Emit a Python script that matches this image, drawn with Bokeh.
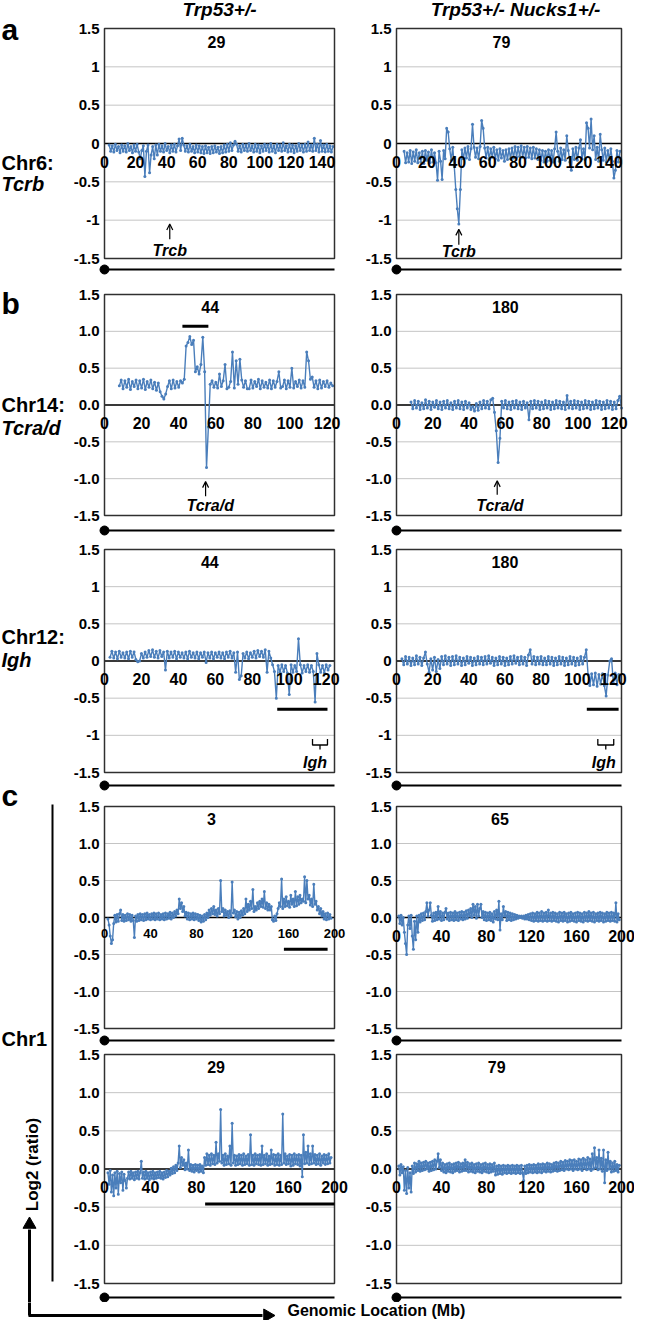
import math
from bokeh.plotting import figure
from bokeh.layouts import column, row
from bokeh.models import Range1d, Arrow, OpenHead
from bokeh.embed import file_html
from bokeh.resources import INLINE
from bokeh.core.properties import value

FONT = "Liberation Sans"
BLUE = "#4A7EBB"

# ---------------- texts ----------------
col_titles = ["Trp53+/-", "Trp53+/- Nucks1+/-"]
row_letters = ["a", "b", "c"]
chr_labels = ["Chr6:", "Chr14:", "Chr12:", "Chr1"]
gene_labels = ["Tcrb", "Tcra/d", "Igh", "Trcb"]
y_title = "Log2 (ratio)"
x_title = "Genomic Location (Mb)"
sample_ids = [["29", "79"], ["44", "180"], ["44", "180"], ["3", "65"], ["29", "79"]]

# ---------------- axes ----------------
y_ticks = [-1.5, -1.0, -0.5, 0.0, 0.5, 1.0, 1.5]
y_labels_plain = ["-1.5", "-1", "-0.5", "0", "0.5", "1", "1.5"]
y_labels_dec = ["-1.5", "-1.0", "-0.5", "0.0", "0.5", "1.0", "1.5"]
chr6_ticks = [0, 20, 40, 60, 80, 100, 120, 140]
chr14_ticks = [0, 20, 40, 60, 80, 100, 120]
chr12_ticks = [0, 20, 40, 60, 80, 100, 120]
chr1_ticks = [0, 40, 80, 120, 160, 200]
chr6_max, chr14_max, chr12_max, chr1_max = 148, 124, 124.5, 200

# ---------------- data: log2 ratio, one probe per Mb from the start position ----------------
STEP = 1
a_left_start = 3
a_left_y = [
    -0.02, -0.10, -0.03, -0.11, -0.01, -0.09, -0.04, -0.12, -0.02, -0.10,
    -0.03, -0.11, 0.00, -0.09, -0.04, -0.12, -0.02, -0.10, -0.01, -0.11,
    -0.20, -0.09, -0.03, -0.43, -0.10, -0.02, -0.38, -0.15, -0.04, -0.20,
    -0.02, -0.15, -0.01, -0.10, -0.03, -0.11, 0.00, -0.09, -0.04, -0.12,
    -0.02, -0.10, -0.01, -0.11, -0.03, 0.06, -0.09, 0.07, -0.02, -0.10,
    -0.03, -0.11, -0.01, -0.10, -0.04, -0.12, -0.02, -0.11, -0.03, -0.12,
    -0.04, -0.13, -0.03, -0.12, -0.05, -0.13, -0.04, -0.12, -0.03, -0.11,
    -0.05, -0.13, -0.04, -0.12, -0.02, -0.11, -0.01, -0.10, 0.01, -0.09,
    -0.02, 0.03, -0.01, -0.10, -0.03, -0.11, -0.01, -0.09, -0.02, -0.10,
    0.00, -0.09, -0.03, -0.11, -0.01, -0.10, -0.02, -0.12, -0.03, -0.10,
    -0.01, -0.09, -0.02, -0.11, 0.00, -0.10, -0.03, -0.12, -0.01, -0.09,
    -0.02, -0.10, 0.01, -0.09, -0.03, -0.11, -0.01, -0.10, -0.02, -0.12,
    -0.03, -0.10, 0.00, -0.09, -0.02, -0.11, -0.01, -0.10, 0.02, -0.09,
    -0.02, -0.10, 0.07, -0.09, -0.01, -0.11, 0.04, -0.10, -0.02, -0.11,
    -0.01, -0.10, -0.03, -0.11, -0.04]

a_right_start = 5
a_right_y = [
    -0.10, -0.25, -0.12, -0.24, -0.09, -0.26, -0.11, -0.23, -0.08, -0.25,
    -0.12, -0.24, -0.10, -0.26, -0.09, -0.22, -0.11, -0.25, -0.08, -0.24,
    -0.12, -0.25, -0.48, -0.10, -0.23, -0.47, -0.09, -0.20, 0.20, 0.15,
    -0.07, -0.22, -0.05, -0.30, -0.60, -0.85, -1.05, -0.60, -0.08, -0.20,
    -0.06, -0.19, -0.04, -0.21, -0.07, 0.25, -0.05, -0.18, -0.06, -0.20,
    -0.04, 0.30, 0.20, -0.06, -0.19, -0.05, -0.21, -0.07, -0.18, -0.05,
    -0.20, -0.08, -0.22, -0.07, -0.19, -0.09, -0.23, -0.08, -0.21, -0.07,
    -0.20, -0.06, -0.19, -0.04, -0.18, -0.05, -0.17, -0.03, -0.18, -0.05,
    -0.19, -0.04, -0.18, -0.06, -0.20, -0.05, -0.19, -0.07, -0.21, -0.08,
    -0.22, -0.09, -0.24, -0.10, -0.23, -0.08, -0.22, -0.09, -0.24, -0.07,
    0.15, -0.10, -0.23, -0.06, -0.21, -0.08, -0.22, 0.10, -0.09, -0.24,
    -0.35, -0.07, -0.21, -0.05, -0.22, -0.06, 0.05, -0.20, -0.07, -0.21,
    0.27, 0.20, -0.06, 0.32, -0.08, 0.10, -0.21, -0.05, -0.23, 0.12,
    -0.08, -0.22, -0.06, -0.24, -0.09, -0.21, -0.07, -0.23, -0.45, -0.35,
    -0.09, -0.24, -0.10]

b_left_start = 8
b_left_y = [
    0.26, 0.34, 0.22, 0.33, 0.24, 0.35, 0.21, 0.32, 0.25, 0.34,
    0.22, 0.33, 0.23, 0.35, 0.21, 0.32, 0.24, 0.34, 0.22, 0.31,
    0.20, 0.30, 0.18, 0.12, 0.08, 0.15, 0.25, 0.33, 0.22, 0.34,
    0.23, 0.32, 0.24, 0.33, 0.30, 0.35, 0.80, 0.85, 0.93, 0.82,
    0.88, 0.45, 0.52, 0.42, 0.55, 0.92, 0.45, -0.85, -0.30, 0.28,
    0.33, 0.24, 0.31, 0.23, 0.42, 0.25, 0.33, 0.55, 0.22, 0.24,
    0.32, 0.72, 0.23, 0.60, 0.28, 0.62, 0.34, 0.24, 0.33, 0.22,
    0.22, 0.34, 0.23, 0.32, 0.25, 0.35, 0.22, 0.33, 0.24, 0.31,
    0.23, 0.34, 0.22, 0.33, 0.24, 0.32, 0.45, 0.23, 0.25, 0.34,
    0.22, 0.33, 0.24, 0.50, 0.23, 0.32, 0.25, 0.34, 0.23, 0.33,
    0.24, 0.72, 0.60, 0.35, 0.38, 0.24, 0.33, 0.22, 0.34, 0.23,
    0.32, 0.25, 0.33, 0.24, 0.30, 0.26]

b_right_start = 8
b_right_y = [
    0.04, -0.05, 0.06, -0.04, 0.05, -0.06, 0.03, -0.05, 0.07, -0.04,
    0.05, -0.06, 0.04, -0.03, 0.06, -0.05, 0.04, -0.06, 0.05, -0.04,
    0.06, -0.05, 0.03, -0.06, 0.05, -0.04, 0.06, -0.05, 0.04, -0.06,
    0.05, -0.04, 0.03, -0.06, -0.02, -0.08, 0.02, -0.07, 0.04, -0.05,
    0.06, -0.04, 0.05, -0.05, 0.07, 0.09, -0.10, -0.35, -0.78, -0.45,
    0.05, -0.04, 0.06, -0.05, 0.04, -0.06, 0.05, -0.04, 0.06, -0.05,
    0.04, -0.06, 0.05, -0.04, 0.03, -0.20, 0.05, -0.05, 0.06, -0.04,
    0.05, -0.06, 0.04, -0.05, 0.06, -0.04, 0.05, -0.06, 0.04, -0.05,
    0.06, -0.04, 0.05, -0.05, 0.04, -0.06, 0.13, -0.04, 0.05, -0.05,
    0.06, -0.04, 0.05, -0.06, 0.04, -0.05, 0.06, -0.04, 0.05, -0.06,
    0.04, -0.05, 0.06, -0.04, 0.05, -0.06, 0.04, -0.05, 0.06, -0.04,
    0.05, -0.06, 0.04, -0.05, 0.06, 0.12, -0.04]

c12_left_start = 3
c12_left_y = [
    0.05, 0.13, 0.04, 0.12, 0.03, 0.13, 0.05, 0.11, 0.04, 0.12,
    0.03, 0.13, 0.05, 0.12, 0.02, -0.01, 0.00, 0.10, 0.04, 0.12,
    0.05, 0.14, 0.06, 0.15, 0.05, 0.13, 0.04, 0.14, 0.06, 0.12,
    -0.12, 0.13, 0.04, 0.12, 0.05, 0.13, 0.03, 0.12, 0.05, 0.11,
    0.04, 0.12, 0.03, 0.13, 0.05, 0.11, 0.04, 0.12, 0.03, 0.11,
    0.05, 0.12, -0.02, 0.11, 0.04, 0.12, 0.03, 0.11, 0.05, 0.12,
    0.04, 0.11, 0.03, 0.12, 0.05, 0.13, 0.04, 0.11, -0.15, 0.12,
    -0.25, -0.20, 0.10, 0.04, 0.12, 0.03, 0.11, 0.05, 0.13, 0.04,
    0.14, 0.06, 0.13, 0.05, 0.15, -0.15, 0.13, 0.04, -0.05, -0.14,
    -0.50, -0.06, -0.15, -0.05, -0.14, -0.06, -0.16, -0.45, -0.05, -0.15,
    -0.06, -0.14, 0.30, -0.05, -0.16, -0.06, -0.14, -0.05, -0.15, -0.06,
    -0.14, -0.55, 0.10, -0.05, -0.15, -0.06, -0.16, -0.05, -0.12, -0.06]

c12_right_start = 3
c12_right_y = [
    0.03, -0.05, 0.06, -0.04, 0.05, -0.06, 0.04, -0.05, 0.07, -0.04,
    0.05, -0.06, 0.04, 0.12, -0.04, -0.15, 0.03, -0.12, 0.05, -0.14,
    0.02, -0.10, 0.06, -0.05, 0.07, -0.04, 0.05, -0.06, 0.06, -0.05,
    0.07, -0.04, 0.05, -0.06, 0.04, -0.05, 0.06, -0.03, 0.05, -0.06,
    0.04, -0.05, 0.06, -0.04, 0.05, -0.05, 0.06, -0.04, 0.07, -0.03,
    0.05, -0.06, 0.04, -0.05, 0.06, -0.04, 0.05, -0.06, 0.04, -0.05,
    0.06, -0.04, 0.07, -0.03, 0.05, -0.05, 0.06, -0.04, 0.05, -0.06,
    0.08, 0.15, -0.04, 0.06, -0.05, 0.05, -0.04, 0.06, -0.05, 0.04,
    -0.05, 0.06, -0.04, 0.05, -0.06, 0.04, -0.05, 0.06, -0.04, 0.05,
    -0.06, 0.04, -0.05, 0.06, -0.04, 0.05, -0.06, 0.04, -0.05, 0.06,
    -0.04, 0.05, 0.15, -0.18, -0.33, -0.17, -0.32, -0.16, -0.34, -0.18,
    -0.31, -0.17, -0.33, -0.47, -0.19, 0.00, 0.03, -0.30, -0.16, -0.32,
    -0.18]

c1_left_start = 3
c1_left_y = [
    -0.02, -0.10, -0.25, -0.35, -0.30, -0.08, 0.03, -0.06, 0.04, -0.05,
    0.05, 0.10, -0.04, 0.04, -0.05, 0.03, -0.04, 0.05, -0.03, 0.04,
    -0.05, 0.03, -0.04, -0.27, 0.02, -0.05, 0.04, -0.04, 0.05, -0.03,
    0.04, -0.04, 0.05, -0.03, 0.06, -0.02, 0.04, -0.03, 0.05, -0.02,
    0.06, -0.03, 0.05, -0.02, 0.06, -0.03, 0.04, -0.02, 0.05, -0.03,
    0.06, -0.02, 0.05, -0.01, 0.07, -0.02, 0.06, 0.00, 0.08, 0.02,
    0.10, 0.05, 0.25, 0.12, 0.20, 0.08, 0.15, 0.02, 0.07, -0.02,
    0.06, -0.03, 0.05, -0.02, 0.06, -0.03, 0.05, -0.02, 0.04, -0.04,
    0.03, -0.06, 0.02, -0.05, 0.04, -0.03, 0.06, 0.00, 0.10, 0.03,
    0.12, 0.05, 0.15, 0.04, 0.10, 0.02, 0.12, 0.05, 0.50, 0.08,
    0.12, 0.02, 0.10, 0.03, 0.08, 0.00, 0.09, 0.02, 0.48, 0.06,
    0.10, 0.01, 0.08, -0.02, 0.07, 0.00, 0.09, 0.03, 0.12, 0.05,
    0.25, 0.08, 0.18, 0.10, 0.22, 0.12, 0.38, 0.08, 0.15, 0.10,
    0.20, 0.12, 0.22, 0.15, 0.25, 0.14, 0.35, 0.12, 0.20, 0.10,
    0.18, 0.10, 0.15, -0.03, -0.05, 0.02, -0.04, 0.05, 0.12, 0.20,
    0.15, 0.52, 0.12, 0.25, 0.15, 0.28, 0.16, 0.22, 0.14, 0.30,
    0.18, 0.25, 0.15, 0.35, 0.16, 0.28, 0.18, 0.30, 0.20, 0.25,
    0.22, 0.55, 0.20, 0.50, 0.25, 0.30, 0.17, 0.25, 0.15, 0.45,
    0.18, 0.22, 0.10, 0.15, 0.05, 0.12, 0.02, 0.08, -0.02, 0.05,
    -0.03, 0.06, -0.02, 0.04, -0.01]

c1_right_start = 2
c1_right_y = [
    0.02, -0.08, 0.03, -0.10, 0.00, -0.20, -0.35, -0.50, -0.10, 0.02,
    -0.15, 0.03, -0.25, -0.43, -0.05, -0.30, 0.02, -0.20, 0.03, -0.06,
    0.05, -0.04, 0.06, -0.03, 0.08, 0.20, 0.02, 0.10, 0.20, 0.03,
    -0.05, 0.06, -0.04, 0.07, -0.03, 0.15, -0.02, 0.08, -0.04, 0.06,
    -0.03, 0.07, 0.12, -0.02, 0.06, -0.04, 0.07, -0.03, 0.06, -0.04,
    0.08, -0.03, 0.06, -0.04, 0.07, -0.02, 0.08, -0.03, 0.07, -0.02,
    0.09, -0.01, 0.10, 0.02, 0.12, 0.00, 0.18, 0.03, 0.15, -0.01,
    0.18, 0.02, 0.12, 0.18, 0.00, 0.08, -0.03, 0.07, -0.04, 0.06,
    -0.03, 0.07, -0.04, 0.05, -0.06, 0.08, -0.02, 0.10, -0.03, 0.22,
    -0.17, 0.05, -0.03, 0.15, 0.02, 0.08, -0.04, 0.07, -0.03, 0.06,
    -0.04, 0.05, -0.03, 0.04, -0.02, 0.03, -0.01, 0.02, 0.00, 0.02,
    -0.01, 0.02, -0.02, 0.03, -0.02, 0.04, -0.03, 0.05, -0.04, 0.06,
    -0.05, 0.05, -0.04, 0.07, -0.05, 0.06, -0.04, 0.08, -0.05, 0.06,
    -0.04, 0.07, -0.05, 0.10, -0.04, 0.06, -0.05, 0.07, -0.04, 0.06,
    -0.05, 0.05, -0.06, 0.07, -0.04, 0.06, -0.05, 0.07, -0.04, 0.05,
    -0.06, 0.06, -0.05, 0.07, -0.04, 0.05, -0.05, 0.06, -0.06, 0.07,
    -0.04, 0.06, -0.05, 0.05, -0.06, 0.07, -0.04, 0.06, -0.05, 0.08,
    -0.04, 0.06, -0.05, 0.07, -0.06, 0.05, -0.04, 0.06, -0.05, 0.07,
    -0.04, 0.06, -0.06, 0.05, -0.05, 0.07, -0.04, 0.06, -0.05, 0.07,
    -0.04, 0.06, -0.05, 0.20, -0.06, 0.05, -0.03]

c2_left_start = 3
c2_left_y = [
    -0.05, -0.20, -0.02, -0.30, -0.08, -0.35, -0.05, -0.25, -0.03, -0.33,
    -0.06, -0.18, -0.04, -0.28, -0.07, -0.15, -0.25, -0.12, -0.04, -0.13,
    -0.03, -0.12, -0.05, -0.14, -0.04, -0.12, -0.03, -0.13, -0.05, 0.10,
    -0.12, -0.04, -0.13, -0.03, -0.12, -0.05, -0.14, -0.04, -0.12, -0.03,
    -0.13, -0.05, -0.12, -0.04, -0.11, -0.03, -0.12, -0.05, -0.13, -0.04,
    -0.11, -0.02, -0.10, -0.03, -0.08, 0.01, -0.06, 0.03, -0.05, 0.05,
    -0.02, 0.08, 0.30, 0.02, 0.15, 0.05, 0.12, -0.01, 0.08, 0.00,
    0.25, -0.02, 0.06, -0.03, 0.05, -0.04, 0.06, -0.02, 0.05, -0.04,
    0.06, -0.03, 0.04, -0.05, 0.15, 0.05, 0.20, 0.06, 0.18, 0.05,
    0.20, 0.07, 0.18, 0.06, 0.35, 0.08, 0.20, 0.10, 0.78, 0.08,
    0.18, 0.05, 0.20, 0.06, 0.17, 0.07, 0.30, 0.05, 0.60, 0.08,
    0.18, 0.05, 0.17, 0.06, 0.19, 0.07, 0.18, 0.05, 0.20, 0.06,
    0.17, 0.07, 0.19, 0.05, 0.45, 0.06, 0.18, 0.05, 0.20, 0.07,
    0.18, 0.06, 0.19, 0.05, 0.30, 0.06, 0.18, 0.07, 0.20, 0.05,
    0.17, 0.06, 0.25, 0.07, 0.19, 0.05, 0.18, 0.06, 0.20, 0.05,
    0.18, 0.06, 0.72, 0.08, 0.20, 0.06, 0.17, 0.07, 0.19, 0.04,
    0.18, 0.05, 0.20, 0.07, 0.18, 0.06, 0.19, 0.04, 0.18, -0.10,
    0.45, 0.07, 0.22, 0.08, 0.30, 0.06, 0.20, 0.07, 0.30, 0.08,
    0.19, 0.06, 0.18, 0.07, 0.20, 0.05, 0.17, 0.08, 0.19, 0.06,
    0.18, 0.07, 0.20, 0.08, 0.15]

c2_right_start = 2
c2_right_y = [
    0.04, -0.08, 0.06, -0.05, 0.03, -0.28, -0.02, -0.32, 0.02, -0.25,
    -0.05, -0.30, 0.04, -0.06, 0.08, -0.04, 0.07, -0.02, 0.10, -0.03,
    0.08, -0.02, 0.09, -0.01, 0.10, 0.00, 0.08, -0.03, 0.09, -0.02,
    0.10, -0.01, 0.12, 0.00, 0.10, 0.20, 0.02, 0.12, -0.02, 0.08,
    -0.04, 0.06, -0.05, 0.07, -0.03, 0.08, -0.04, 0.06, -0.05, 0.07,
    -0.03, 0.08, -0.02, 0.09, -0.04, 0.07, -0.03, 0.08, -0.02, 0.12,
    -0.02, 0.09, -0.04, 0.07, -0.03, 0.08, -0.04, 0.06, -0.05, 0.07,
    -0.03, 0.08, -0.04, 0.06, -0.05, 0.07, -0.03, 0.08, -0.04, 0.06,
    -0.05, 0.07, -0.04, 0.06, -0.03, 0.08, -0.08, 0.04, -0.07, 0.05,
    -0.06, 0.04, -0.07, 0.05, -0.05, 0.04, -0.06, 0.05, -0.05, 0.04,
    -0.06, 0.05, -0.05, 0.04, -0.06, 0.05, -0.05, 0.04, -0.06, 0.05,
    -0.05, -0.15, 0.04, -0.06, 0.05, -0.05, 0.06, -0.04, 0.05, -0.05,
    0.06, -0.04, 0.05, -0.05, 0.07, -0.04, 0.06, -0.05, 0.07, -0.03,
    0.06, -0.04, 0.08, -0.03, 0.07, -0.04, 0.06, -0.03, 0.08, -0.02,
    0.09, -0.03, 0.08, -0.02, 0.10, -0.01, 0.09, -0.02, 0.11, 0.00,
    0.10, -0.01, 0.12, 0.00, 0.11, -0.02, 0.12, 0.00, 0.10, -0.01,
    0.13, 0.00, 0.12, -0.02, 0.14, 0.01, 0.12, -0.01, 0.15, 0.00,
    0.13, -0.02, 0.20, 0.00, 0.28, 0.02, 0.15, -0.01, 0.25, 0.00,
    0.14, -0.03, 0.25, -0.18, 0.12, -0.02, 0.22, 0.00, 0.10, -0.04,
    0.08, -0.03, 0.10, -0.02, 0.06, -0.04, 0.05]

# ---------------- layout geometry (pixel boxes) ----------------
LEFT = dict(width=280, box_l=34, fw=230)
RIGHT = dict(width=284, box_l=46, fw=225)
ROWS = [
    dict(top=24, fh=230, bot=290, line_y=273),
    dict(top=290, fh=221, bot=545, line_y=534),
    dict(top=545, fh=223, bot=802, line_y=789),
    dict(top=802, fh=222, bot=1050, line_y=1044),
    dict(top=1050, fh=229, bot=1306, line_y=1301),
]
BOX_TOP = 8

PANELS = [
    [dict(xmax=chr6_max, ticks=chr6_ticks, ylabels=y_labels_plain, start=a_left_start, ys=a_left_y,
          num_x=72, tick_size=16, tick_off=18,
          arrow=(42, -1.25, -1.05), gene=(gene_labels[3], 42, -1.39)),
     dict(xmax=chr6_max, ticks=chr6_ticks, ylabels=y_labels_plain, start=a_right_start, ys=a_right_y,
          num_x=69, tick_size=16, tick_off=18,
          arrow=(41, -1.32, -1.12), gene=(gene_labels[0], 41, -1.41))],
    [dict(xmax=chr14_max, ticks=chr14_ticks, ylabels=y_labels_dec, start=b_left_start, ys=b_left_y,
          num_x=57, tick_size=16, tick_off=18,
          bar=(42, 56, 1.07), arrow=(54.5, -1.24, -1.04), gene=(gene_labels[1], 57, -1.37)),
     dict(xmax=chr14_max, ticks=chr14_ticks, ylabels=y_labels_dec, start=b_right_start, ys=b_right_y,
          num_x=60, tick_size=16, tick_off=18,
          arrow=(55.5, -1.22, -1.03), gene=(gene_labels[1], 57, -1.36))],
    [dict(xmax=chr12_max, ticks=chr12_ticks, ylabels=y_labels_plain, start=c12_left_start, ys=c12_left_y,
          num_x=57, tick_size=16, tick_off=18,
          bar=(93.5, 120.7, -0.65), bracket=(112.6, 120.7, -1.05, -1.13), gene=(gene_labels[2], 114, -1.37)),
     dict(xmax=chr12_max, ticks=chr12_ticks, ylabels=y_labels_plain, start=c12_right_start, ys=c12_right_y,
          num_x=60, tick_size=16, tick_off=18,
          bar=(105.3, 122.9, -0.65), bracket=(111.4, 120.2, -1.05, -1.13), gene=(gene_labels[2], 114.7, -1.37))],
    [dict(xmax=chr1_max, ticks=chr1_ticks, ylabels=y_labels_dec, start=c1_left_start, ys=c1_left_y,
          num_x=93, tick_size=13, tick_off=16, bar=(156, 194, -0.43)),
     dict(xmax=chr1_max, ticks=chr1_ticks, ylabels=y_labels_dec, start=c1_right_start, ys=c1_right_y,
          num_x=92, tick_size=16, tick_off=18)],
    [dict(xmax=chr1_max, ticks=chr1_ticks, ylabels=y_labels_dec, start=c2_left_start, ys=c2_left_y,
          num_x=97, tick_size=16, tick_off=18, bar=(87.5, 200, -0.46)),
     dict(xmax=chr1_max, ticks=chr1_ticks, ylabels=y_labels_dec, start=c2_right_start, ys=c2_right_y,
          num_x=89, tick_size=16, tick_off=18)],
]


def txt(p, x, y, t, size, style="bold", align="center", xo=0, yo=0, angle=0.0):
    p.text(x=[x], y=[y], text=[t], text_font=value(FONT), text_font_style=style,
           text_font_size="%dpx" % size, text_align=align, text_baseline="middle",
           x_offset=xo, y_offset=yo, angle=angle, text_color="black")


def make_panel(geom, rg, spec, num):
    R = spec["xmax"]
    W, L, fw = geom["width"], geom["box_l"], geom["fw"]
    H = rg["bot"] - rg["top"]
    fh = rg["fh"]
    upx = R / fw
    vpx = 3.0 / fh
    x_range = Range1d(-L * upx, R + (W - L - fw) * upx)
    y_range = Range1d(1.5 - (H - BOX_TOP) * vpx, 1.5 + BOX_TOP * vpx)
    p = figure(width=W, height=H, x_range=x_range, y_range=y_range, output_backend="svg",
               toolbar_location=None, x_axis_location=None, y_axis_location=None, min_border=0)
    p.grid.visible = False
    p.outline_line_color = None

    inner = [t for t in y_ticks if abs(t) < 1.5]
    p.segment(x0=[0] * len(inner), y0=inner, x1=[R] * len(inner), y1=inner,
              line_color="#C4C4C4", line_width=1)
    p.segment(x0=[0], y0=[0], x1=[R], y1=[0], line_color="black", line_width=1.3)

    ys = spec["ys"]
    xs = [spec["start"] + STEP * i for i in range(len(ys))]
    p.line(xs, ys, line_color=BLUE, line_width=1.4)
    p.scatter(xs, ys, size=3, color=BLUE, line_color=None)

    p.quad(left=[0], right=[R], bottom=[-1.5], top=[1.5], fill_color=None,
           line_color="#303030", line_width=1.5)

    p.text(x=[0] * len(y_ticks), y=y_ticks, text=spec["ylabels"], text_font=value(FONT),
           text_font_style="bold", text_font_size="15px", text_align="right",
           text_baseline="middle", x_offset=-5, text_color="black")
    ticks = spec["ticks"]
    p.text(x=ticks, y=[0] * len(ticks), text=[str(v) for v in ticks], text_font=value(FONT),
           text_font_style="bold", text_font_size="%dpx" % spec["tick_size"], text_align="center",
           text_baseline="middle", y_offset=spec["tick_off"], text_color="black")

    txt(p, spec["num_x"], 1.33, num, 16)
    if "bar" in spec:
        x0, x1, yb = spec["bar"]
        p.segment(x0=[x0], y0=[yb], x1=[x1], y1=[yb], line_width=3, line_color="black")
    if "arrow" in spec:
        xa, y0, y1 = spec["arrow"]
        p.add_layout(Arrow(end=OpenHead(size=6, line_width=1.2, line_color="black"),
                           x_start=xa, y_start=y0, x_end=xa, y_end=y1, line_width=1.2,
                           line_color="black"))
    if "bracket" in spec:
        x0, x1, yt, yb = spec["bracket"]
        xm = (x0 + x1) / 2
        p.multi_line(xs=[[x0, x0, x1, x1], [xm, xm]], ys=[[yt, yb, yb, yt], [yb, yb - 0.06]],
                     line_color="black", line_width=1.3)
    if "gene" in spec:
        g, gx, gy = spec["gene"]
        txt(p, gx, gy, g, 16, style="bold italic")

    y_chr = 1.5 - (rg["line_y"] - rg["top"] - BOX_TOP) * vpx
    p.segment(x0=[0], y0=[y_chr], x1=[R], y1=[y_chr], line_width=2, line_color="black")
    p.scatter(x=[0], y=[y_chr], size=9, color="black")
    return p


DECO_TEXT = [
    (col_titles[0], 227, 13, 19, "bold italic", "center", 0.0),
    (col_titles[1], 523, 13, 19, "bold italic", "center", 0.0),
    (row_letters[0], 9, 33, 30, "bold", "left", 0.0),
    (row_letters[1], 9, 307, 30, "bold", "left", 0.0),
    (row_letters[2], 9, 799, 30, "bold", "left", 0.0),
    (chr_labels[0], 9, 166, 20, "bold", "left", 0.0),
    (gene_labels[0], 9, 187, 20, "bold italic", "left", 0.0),
    (chr_labels[1], 9, 408, 20, "bold", "left", 0.0),
    (gene_labels[1], 9, 431, 20, "bold italic", "left", 0.0),
    (chr_labels[2], 9, 640, 20, "bold", "left", 0.0),
    (gene_labels[2], 9, 663, 20, "bold italic", "left", 0.0),
    (chr_labels[3], 9, 1042, 20, "bold", "left", 0.0),
    (y_title, 40, 1168, 17, "bold", "center", math.pi / 2),
    (x_title, 295, 1314, 16, "bold", "left", 0.0),
]
DECO_SEG = [
    (60, 808, 60, 1285, 2),
    (37, 1319, 37, 1233, 3),
    (36, 1319, 270, 1319, 3),
]
DECO_HEAD = [(37, 1228, 0.0), (275, 1319, -math.pi / 2)]


def make_deco(x0, x1, y0, y1):
    p = figure(width=x1 - x0, height=y1 - y0, x_range=Range1d(x0, x1), y_range=Range1d(y1, y0),
               output_backend="svg", toolbar_location=None, x_axis_location=None, y_axis_location=None,
               min_border=0)
    p.grid.visible = False
    p.outline_line_color = None
    for t, x, y, s, st, al, an in DECO_TEXT:
        if x0 <= x <= x1 and y0 <= y <= y1:
            txt(p, x, y, t, s, style=st, align=al, angle=an)
    for xa, ya, xb, yb, w in DECO_SEG:
        if max(xa, xb) >= x0 and min(xa, xb) <= x1 and max(ya, yb) >= y0 and min(ya, yb) <= y1:
            p.segment(x0=[xa], y0=[ya], x1=[xb], y1=[yb], line_width=w, line_color="black")
    for x, y, an in DECO_HEAD:
        if x0 <= x <= x1 and y0 - 8 <= y <= y1 + 8:
            p.scatter(x=[x], y=[y], marker="triangle", size=13, angle=an, color="black")
    return p


left_items, right_items = [], []
for r, (rg, specs) in enumerate(zip(ROWS, PANELS)):
    left_items.append(make_panel(LEFT, rg, specs[0], sample_ids[r][0]))
    right_items.append(make_panel(RIGHT, rg, specs[1], sample_ids[r][1]))

strip = make_deco(8, 78, 4, 1306)
header = make_deco(78, 642, 4, 24)
bottom = make_deco(8, 642, 1306, 1324)

layout = column(row(strip, column(header, row(column(*left_items), column(*right_items)))), bottom)

open("out.html", "w").write(file_html(layout, INLINE, title="CNV"))
